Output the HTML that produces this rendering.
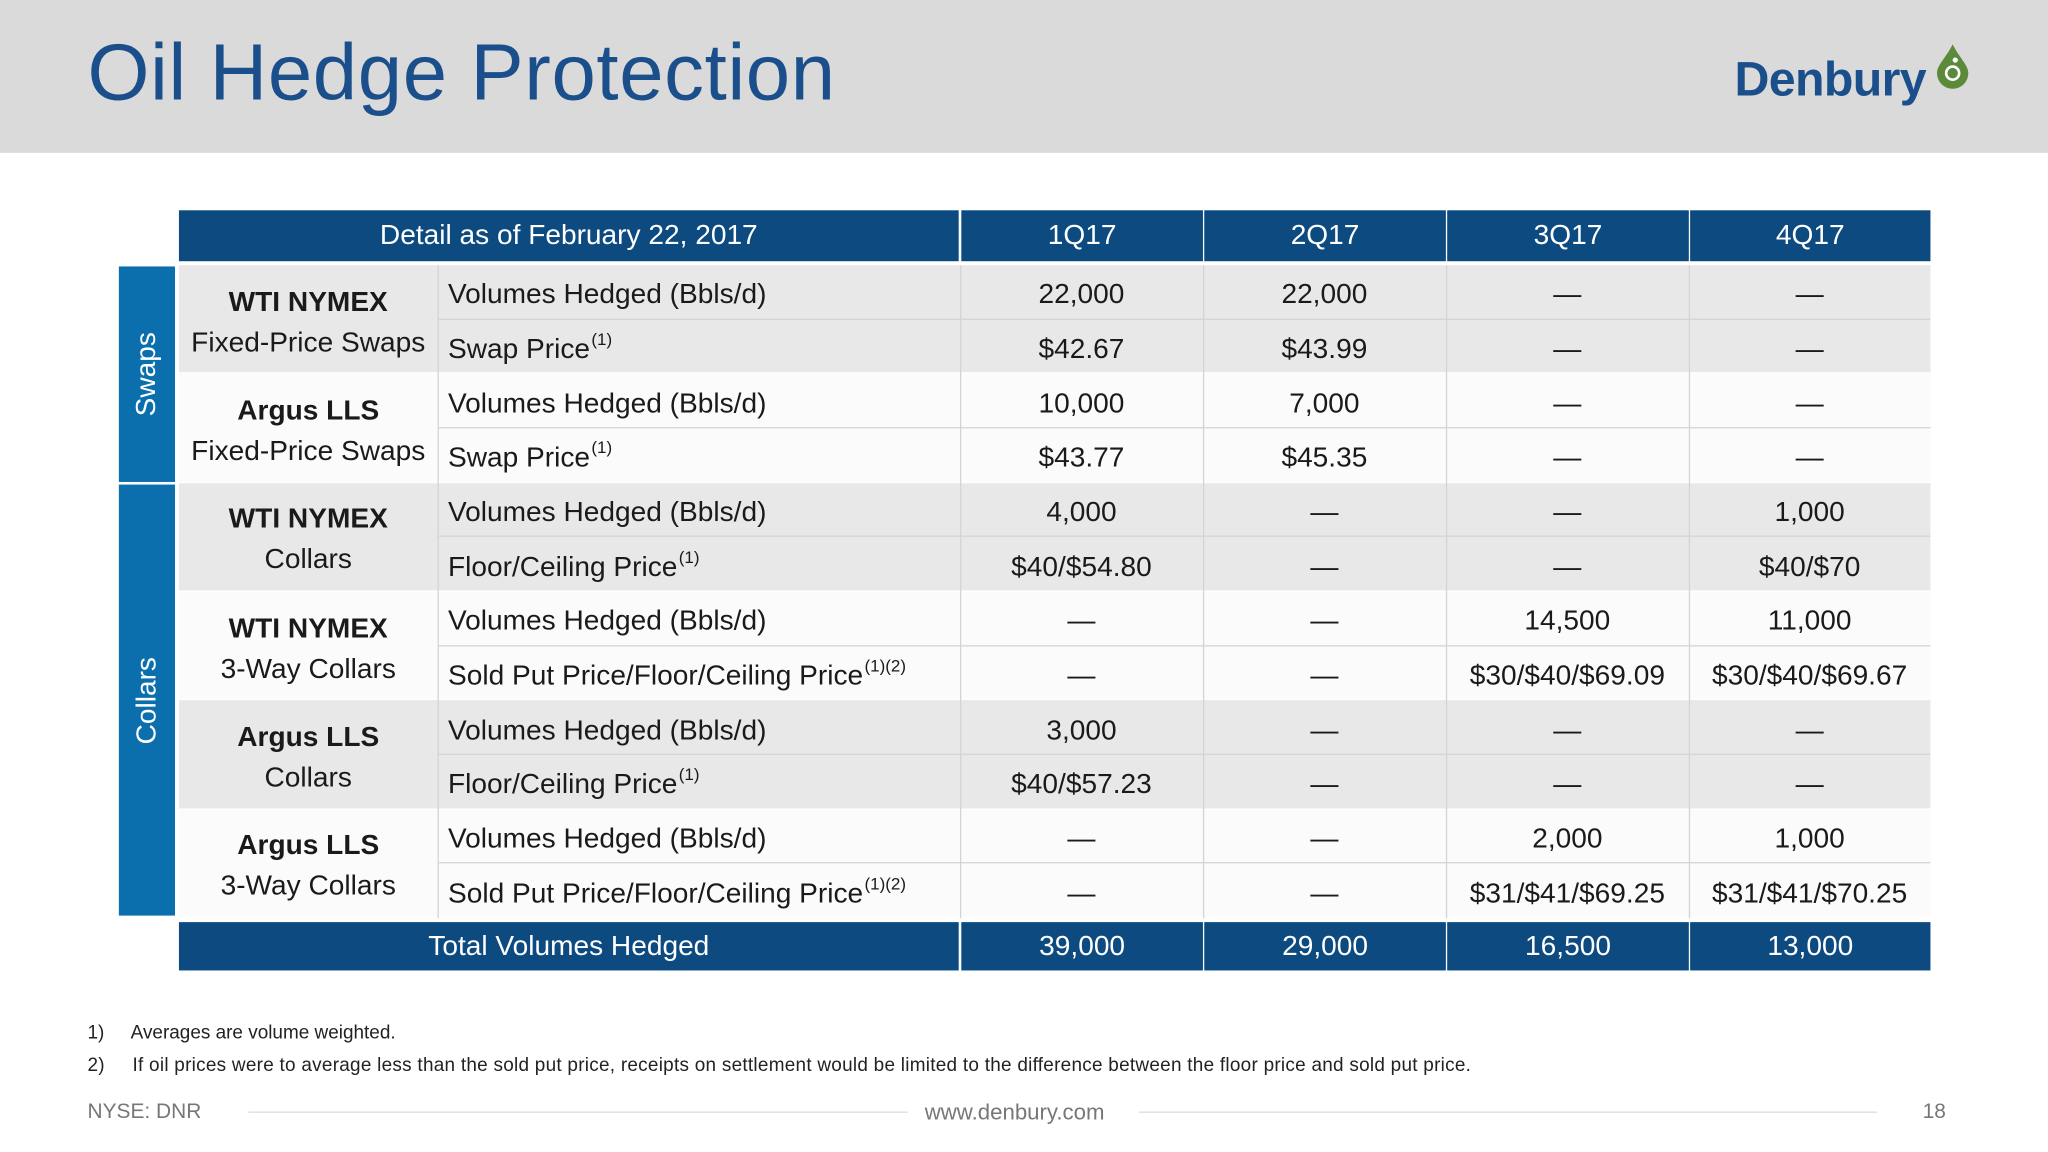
<!DOCTYPE html>
<html><head><meta charset="utf-8">
<style>
html,body{margin:0;padding:0;width:2048px;height:1152px;overflow:hidden;background:#fff;}
#wrap{position:absolute;left:0;top:0;width:1568px;height:882px;transform:scale(1.306122);transform-origin:0 0;font-family:"Liberation Sans",sans-serif;background:#fff;}
.abs{position:absolute;box-sizing:border-box;}
.cell{position:absolute;box-sizing:border-box;display:flex;align-items:center;justify-content:center;font-size:21.5px;color:#1a1a1a;white-space:nowrap;}
.hd{background:#0c4a80;color:#fff;}
sup{font-size:13px;position:relative;top:-8px;margin-left:1px;}
</style></head>
<body>
<div id="wrap">
  <div class="abs" style="left:0;top:0;width:1568px;height:117px;background:#dadadb"></div>
  <div class="abs" style="left:67px;top:20px;font-size:61px;color:#1b4f8c;letter-spacing:0.5px">Oil Hedge Protection</div>
  <div class="abs" style="left:1328px;top:40px;font-size:37px;font-weight:bold;color:#1b4f8c;letter-spacing:-0.5px">Denbury</div>
  <svg class="abs" style="left:1480px;top:32px" width="30" height="36">
    <path d="M15 2 C20 12 27 18 27 24 A12 12 0 0 1 3 24 C3 18 10 12 15 2Z" fill="#5b8a3a"/>
    <circle cx="15" cy="24" r="5" fill="none" stroke="#fff" stroke-width="2"/>
    <circle cx="17" cy="14" r="2" fill="#fff"/>
  </svg>
  <div id="table"></div>
  <div class="abs" style="left:67px;top:783px;font-size:14.5px;color:#222">1)&nbsp;&nbsp;&nbsp;&nbsp;&nbsp;Averages are volume weighted.</div>
  <div class="abs" style="left:67px;top:808px;font-size:14.5px;color:#222;letter-spacing:0.2px">2)&nbsp;&nbsp;&nbsp;&nbsp;&nbsp;If oil prices were to average less than the sold put price, receipts on settlement would be limited to the difference between the floor price and sold put price.</div>
  <div class="abs" style="left:67px;top:843px;font-size:16px;color:#777">NYSE: DNR</div>
  <div class="abs" style="left:190px;top:851px;width:505px;height:1px;background:#ddd"></div>
  <div class="abs" style="left:708px;top:842px;font-size:17px;color:#777">www.denbury.com</div>
  <div class="abs" style="left:872px;top:851px;width:565px;height:1px;background:#ddd"></div>
  <div class="abs" style="left:1472px;top:843px;font-size:16px;color:#777">18</div>
</div>
<script>
const quarters=["1Q17","2Q17","3Q17","4Q17"];
const groups=[["WTI NYMEX","Fixed-Price Swaps"],["Argus LLS","Fixed-Price Swaps"],["WTI NYMEX","Collars"],["WTI NYMEX","3-Way Collars"],["Argus LLS","Collars"],["Argus LLS","3-Way Collars"]];
const metrics=["Volumes Hedged (Bbls/d)","Swap Price<sup>(1)</sup>","Volumes Hedged (Bbls/d)","Swap Price<sup>(1)</sup>","Volumes Hedged (Bbls/d)","Floor/Ceiling Price<sup>(1)</sup>","Volumes Hedged (Bbls/d)","Sold Put Price/Floor/Ceiling Price<sup>(1)(2)</sup>","Volumes Hedged (Bbls/d)","Floor/Ceiling Price<sup>(1)</sup>","Volumes Hedged (Bbls/d)","Sold Put Price/Floor/Ceiling Price<sup>(1)(2)</sup>"];
const values=[["22,000","22,000","—","—"],["$42.67","$43.99","—","—"],["10,000","7,000","—","—"],["$43.77","$45.35","—","—"],["4,000","—","—","1,000"],["$40/$54.80","—","—","$40/$70"],["—","—","14,500","11,000"],["—","—","$30/$40/$69.09","$30/$40/$69.67"],["3,000","—","—","—"],["$40/$57.23","—","—","—"],["—","—","2,000","1,000"],["—","—","$31/$41/$69.25","$31/$41/$70.25"]];
const totals=["39,000","29,000","16,500","13,000"];
const W=document.getElementById('wrap');
const colX=[137,335,735,921,1107,1293,1478];
const rowTop=203,rowH=41.67;
function mk(cls,l,t,w,h,html,name,bg,extra){const d=document.createElement('div');d.className=cls;d.style.cssText=`left:${l}px;top:${t}px;width:${w}px;height:${h}px;`+(bg?`background:${bg};`:'')+(extra||'');d.innerHTML=html;


W.appendChild(d);return d;}
mk('cell hd',137,161,597,39,'Detail as of February 22, 2017','header-detail');
quarters.forEach((q,i)=>mk('cell hd',colX[i+2]+1,161,colX[i+3]-colX[i+2]-1,39,q,'header-'+q.toLowerCase()));
groups.forEach((g,gi)=>{
  const bg=gi%2==0?'#e8e8e8':'#fbfbfb';
  const t=rowTop+gi*2*rowH;
  mk('abs',137,t,1341,rowH*2,'','group-row-bg-'+gi,bg,'');
  mk('cell',137,t+4,198,rowH*2-4,`<div style="text-align:center;line-height:31px"><b>${g[0]}</b><br>${g[1]}</div>`,'group-label-'+gi);
  mk('abs',137,t+rowH*2-1,1341,2,'','group-sep-'+gi,'#fff');
});
metrics.forEach((m,r)=>{
  const t=rowTop+r*rowH;
  mk('cell',colX[1]+8,t+2,400,rowH,m,'metric-label-'+r,null,'justify-content:flex-start;');
  if(r%2==0) mk('abs',335,t+rowH-1,1143,1,'','row-line-'+r,'#d4d4d4');
  values[r].forEach((v,c)=>mk('cell',colX[c+2],t+2,colX[c+3]-colX[c+2],rowH,v,'value-r'+r+'-'+quarters[c].toLowerCase()));
});
for(let i=1;i<6;i++) mk('abs',colX[i],rowTop,1,rowH*12,'','col-line-'+i,'#d4d4d4');
mk('cell hd',137,706,597,37,'Total Volumes Hedged','total-label');
totals.forEach((v,i)=>mk('cell hd',colX[i+2]+1,706,colX[i+3]-colX[i+2]-1,37,v,'total-'+quarters[i].toLowerCase()));
mk('cell',91,204,43,165,'<span style="transform:rotate(-90deg);display:inline-block;color:#fff">Swaps</span>','swaps-side-label','#0b6fae');
mk('cell',91,371,43,330,'<span style="transform:rotate(-90deg);display:inline-block;color:#fff">Collars</span>','collars-side-label','#0b6fae');
</script>
</body></html>
